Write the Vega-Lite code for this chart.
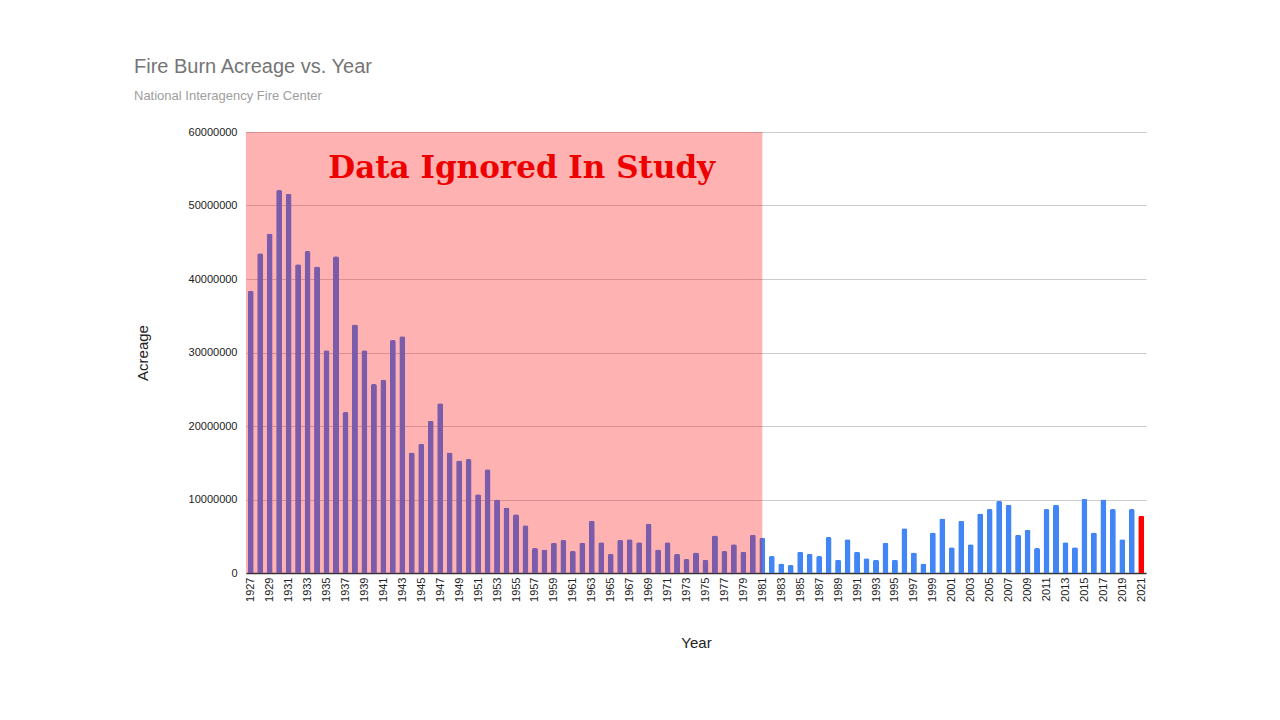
{
  "$schema": "https://vega.github.io/schema/vega-lite/v6.json",
  "width": 900,
  "height": 441,
  "autosize": {"type": "none"},
  "padding": {"left": 246, "top": 132, "right": 134, "bottom": 147},
  "background": "white",
  "title": {
    "text": "Fire Burn Acreage vs. Year",
    "subtitle": "National Interagency Fire Center",
    "anchor": "start",
    "frame": "group",
    "dx": -112,
    "offset": 23,
    "font": "Liberation Sans",
    "fontSize": 20,
    "fontWeight": "normal",
    "color": "#757575",
    "subtitleFont": "Liberation Sans",
    "subtitleFontSize": 13,
    "subtitleColor": "#9e9e9e",
    "subtitlePadding": 13
  },
  "config": {
    "view": {"stroke": null},
    "scale": {"continuousPadding": 0},
    "axis": {"labelFont": "Liberation Sans", "titleFont": "Liberation Sans", "labelColor": "#222222", "titleColor": "#222222", "titleFontWeight": "normal"},
    "axisX": {"labelOverlap": false, "labelSeparation": 0, "labelFlush": false}
  },
  "datasets": {
    "fires": [
      {"year": 1927, "acres": 38400000}, {"year": 1928, "acres": 43500000}, {"year": 1929, "acres": 46200000},
      {"year": 1930, "acres": 52100000}, {"year": 1931, "acres": 51600000}, {"year": 1932, "acres": 42000000},
      {"year": 1933, "acres": 43800000}, {"year": 1934, "acres": 41700000}, {"year": 1935, "acres": 30300000},
      {"year": 1936, "acres": 43100000}, {"year": 1937, "acres": 21900000}, {"year": 1938, "acres": 33800000},
      {"year": 1939, "acres": 30300000}, {"year": 1940, "acres": 25700000}, {"year": 1941, "acres": 26300000},
      {"year": 1942, "acres": 31700000}, {"year": 1943, "acres": 32200000}, {"year": 1944, "acres": 16400000},
      {"year": 1945, "acres": 17600000}, {"year": 1946, "acres": 20700000}, {"year": 1947, "acres": 23100000},
      {"year": 1948, "acres": 16400000}, {"year": 1949, "acres": 15300000}, {"year": 1950, "acres": 15500000},
      {"year": 1951, "acres": 10700000}, {"year": 1952, "acres": 14100000}, {"year": 1953, "acres": 10000000},
      {"year": 1954, "acres": 8900000}, {"year": 1955, "acres": 8000000}, {"year": 1956, "acres": 6500000},
      {"year": 1957, "acres": 3400000}, {"year": 1958, "acres": 3200000}, {"year": 1959, "acres": 4100000},
      {"year": 1960, "acres": 4500000}, {"year": 1961, "acres": 3000000}, {"year": 1962, "acres": 4100000},
      {"year": 1963, "acres": 7100000}, {"year": 1964, "acres": 4200000}, {"year": 1965, "acres": 2600000},
      {"year": 1966, "acres": 4500000}, {"year": 1967, "acres": 4600000}, {"year": 1968, "acres": 4200000},
      {"year": 1969, "acres": 6700000}, {"year": 1970, "acres": 3200000}, {"year": 1971, "acres": 4200000},
      {"year": 1972, "acres": 2600000}, {"year": 1973, "acres": 1900000}, {"year": 1974, "acres": 2800000},
      {"year": 1975, "acres": 1800000}, {"year": 1976, "acres": 5100000}, {"year": 1977, "acres": 3000000},
      {"year": 1978, "acres": 3900000}, {"year": 1979, "acres": 2900000}, {"year": 1980, "acres": 5200000},
      {"year": 1981, "acres": 4800000}, {"year": 1982, "acres": 2300000}, {"year": 1983, "acres": 1300000},
      {"year": 1984, "acres": 1100000}, {"year": 1985, "acres": 2900000}, {"year": 1986, "acres": 2600000},
      {"year": 1987, "acres": 2300000}, {"year": 1988, "acres": 4900000}, {"year": 1989, "acres": 1800000},
      {"year": 1990, "acres": 4600000}, {"year": 1991, "acres": 2900000}, {"year": 1992, "acres": 2000000},
      {"year": 1993, "acres": 1800000}, {"year": 1994, "acres": 4100000}, {"year": 1995, "acres": 1800000},
      {"year": 1996, "acres": 6100000}, {"year": 1997, "acres": 2800000}, {"year": 1998, "acres": 1300000},
      {"year": 1999, "acres": 5500000}, {"year": 2000, "acres": 7400000}, {"year": 2001, "acres": 3500000},
      {"year": 2002, "acres": 7100000}, {"year": 2003, "acres": 3900000}, {"year": 2004, "acres": 8100000},
      {"year": 2005, "acres": 8700000}, {"year": 2006, "acres": 9800000}, {"year": 2007, "acres": 9300000},
      {"year": 2008, "acres": 5200000}, {"year": 2009, "acres": 5900000}, {"year": 2010, "acres": 3400000},
      {"year": 2011, "acres": 8700000}, {"year": 2012, "acres": 9300000}, {"year": 2013, "acres": 4200000},
      {"year": 2014, "acres": 3500000}, {"year": 2015, "acres": 10100000}, {"year": 2016, "acres": 5500000},
      {"year": 2017, "acres": 10000000}, {"year": 2018, "acres": 8700000}, {"year": 2019, "acres": 4600000},
      {"year": 2020, "acres": 8700000}, {"year": 2021, "acres": 7800000}
    ],
    "ignored": [
      {"year": 1926.5, "yearEnd": 1981, "acres": 0, "acresTop": 60000000}
    ],
    "note": [
      {"year": 1955.6, "acres": 55000000, "label": "Data Ignored In Study"}
    ]
  },
  "encoding": {
    "x": {
      "field": "year", "type": "quantitative",
      "scale": {"domain": [1926.5, 2021.5], "nice": false, "zero": false, "padding": 0},
      "axis": {
        "title": "Year", "titleFontSize": 15, "titlePadding": 34,
        "values": [1927,1929,1931,1933,1935,1937,1939,1941,1943,1945,1947,1949,1951,1953,1955,1957,1959,1961,1963,1965,1967,1969,1971,1973,1975,1977,1979,1981,1983,1985,1987,1989,1991,1993,1995,1997,1999,2001,2003,2005,2007,2009,2011,2013,2015,2017,2019,2021],
        "format": "d", "labelAngle": 270, "labelFontSize": 11, "labelPadding": 4,
        "labelOverlap": false, "labelSeparation": 0, "labelFlush": false,
        "ticks": false, "grid": false, "domainColor": "#333333", "domainWidth": 1.5
      }
    },
    "y": {
      "field": "acres", "type": "quantitative",
      "scale": {"domain": [0, 60000000], "nice": false, "padding": 0},
      "axis": {
        "title": "Acreage", "titleFontSize": 15, "titlePadding": 38,
        "values": [0, 10000000, 20000000, 30000000, 40000000, 50000000, 60000000],
        "format": "d", "labelFontSize": 11, "labelPadding": 9,
        "ticks": false, "domain": false, "gridColor": "#cccccc"
      }
    }
  },
  "layer": [
    {
      "data": {"name": "fires"},
      "mark": {"type": "bar", "width": 6, "cornerRadiusTopLeft": 2, "cornerRadiusTopRight": 2},
      "encoding": {
        "color": {"condition": {"test": "datum.year === 2021", "value": "#ff0000"}, "value": "#4285f4"}
      }
    },
    {
      "data": {"name": "ignored"},
      "mark": {"type": "rect", "color": "#ff0000", "opacity": 0.3},
      "encoding": {
        "x2": {"field": "yearEnd"},
        "y2": {"field": "acresTop"}
      }
    },
    {
      "data": {"name": "note"},
      "mark": {"type": "text", "font": "DejaVu Serif", "fontWeight": "bold", "fontSize": 31, "color": "#ee0000", "align": "center", "baseline": "middle"},
      "encoding": {
        "text": {"field": "label"}
      }
    }
  ]
}
